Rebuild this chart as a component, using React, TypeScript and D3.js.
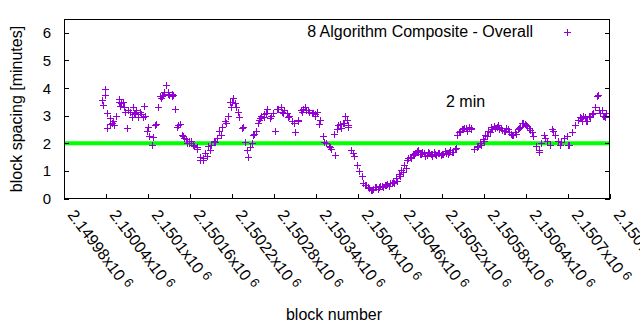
import React from "react";
import * as d3 from "d3";

// ---- data ----
const firstBlock = 2150034;
const blockStep = 4;
const spacingMinutes = [
  3.55, 3.95, 3.1, 2.7, 2.8, 3.0, 3.6, 3.45, 3.3, 2.55,
  3.15, 3.3, 3.1, 2.95, 3.05, 3.35, 2.45, 2.25, 1.95, 2.65,
  3.3, 3.65, 3.75, 4.1, 3.75, 3.8, 3.25, 2.6, 2.7, 2.25,
  2.15, 2.0, 2.1, 1.9, 1.8, 1.5, 1.4, 1.65, 1.9, 1.95,
  2.1, 2.2, 2.45, 2.6, 2.8, 3.0, 3.3, 3.65, 3.3, 2.95,
  2.55, 2.05, 1.75, 1.85, 2.3, 2.45, 2.85, 3.0, 3.05, 3.25,
  2.9, 3.1, 2.45, 3.25, 3.3, 3.2, 3.1, 3.0, 2.8, 2.4,
  2.85, 3.2, 3.25, 3.2, 3.15, 3.1, 3.05, 3.15, 2.85, 2.25,
  2.0, 1.9, 1.8, 2.35, 2.5, 2.7, 2.75, 3.0, 2.6, 1.75,
  1.55, 1.2, 1.0, 0.8, 0.5, 0.4, 0.32, 0.36, 0.4, 0.42,
  0.45, 0.5, 0.52, 0.55, 0.6, 0.75, 0.9, 1.05, 1.2, 1.4,
  1.52, 1.6, 1.65, 1.7, 1.62, 1.66, 1.58, 1.65, 1.62, 1.6,
  1.64, 1.58, 1.62, 1.65, 1.68, 1.7, 1.78, 2.3, 2.45, 2.5,
  2.55, 2.6, 2.5, 1.8, 1.85, 2.0, 2.15, 2.3, 2.45, 2.6,
  2.62, 2.6, 2.52, 2.48, 2.45, 2.5, 2.35, 2.3, 2.35, 2.55,
  2.72, 2.7, 2.62, 2.48, 2.25, 1.9, 1.75, 2.0, 2.3, 2.1,
  1.95, 2.45, 2.3, 2.1, 2.05, 2.2, 2.25, 1.95, 2.4, 2.65,
  2.85, 2.9, 3.0, 2.8, 3.0, 3.05, 3.3, 3.7, 3.1, 3.0,
  3.1,
];
const extraBlocks = [
  2150035, 2150039, 2150042, 2150046, 2150058, 2150067, 2150077, 2150083,
  2150093, 2150107, 2150117, 2150123, 2150129, 2150134, 2150143, 2150148,
  2150158, 2150170, 2150174, 2150179, 2150217, 2150224, 2150243, 2150257,
  2150265, 2150293, 2150315, 2150324, 2150339, 2150367, 2150372, 2150386,
  2150393, 2150407, 2150472, 2150486, 2150505, 2150546, 2150562, 2150572,
  2150596, 2150612, 2150631, 2150636, 2150658, 2150667, 2150677, 2150689,
  2150700, 2150717, 2150727, 2150739, 2150743, 2150748, 2150753,
  2150048, 2150052, 2150060, 2150064, 2150072, 2150080, 2150088, 2150096,
  2150100, 2150112, 2150120, 2150128, 2150136, 2150152, 2150156, 2150164,
  2150184, 2150188, 2150196, 2150204, 2150212, 2150220, 2150228, 2150236,
  2150248, 2150252, 2150260, 2150268, 2150276, 2150284, 2150292, 2150300,
  2150308, 2150320, 2150328, 2150336, 2150344, 2150352, 2150360, 2150376,
  2150380, 2150384,
  2150412, 2150416, 2150420, 2150424, 2150428, 2150432, 2150436, 2150440,
  2150444, 2150448, 2150452, 2150456, 2150460, 2150464, 2150468, 2150476,
  2150480, 2150484, 2150488, 2150492, 2150496, 2150500, 2150504, 2150508,
  2150512, 2150516, 2150520, 2150524, 2150528, 2150532, 2150536, 2150540,
  2150544, 2150548, 2150552, 2150556,
  2150576, 2150580, 2150584, 2150588, 2150592, 2150600, 2150604, 2150608,
  2150616, 2150620, 2150624, 2150628, 2150640, 2150644, 2150648,
  2150720, 2150724, 2150732, 2150736, 2150744, 2150752,
];
const extraMinutes = [
  3.4, 3.76, 2.55, 2.9, 3.5, 3.15, 2.95, 3.2,
  2.95, 2.24, 3.7, 3.85, 3.8, 3.7, 2.67, 2.3,
  2.08, 1.85, 1.4, 1.45, 3.5, 3.45, 1.51, 2.75,
  2.95, 3.1, 2.8, 3.3, 3.0, 1.57, 2.65, 2.65,
  1.64, 0.55, 1.45, 1.75, 1.55, 2.4, 2.55, 1.9,
  2.55, 2.55, 2.6, 2.75, 1.69, 2.2, 2.5, 1.95,
  1.94, 2.95, 2.79, 3.33, 3.75, 3.2, 2.95,
  2.75, 2.65, 3.35, 3.5, 3.2, 3.05, 3.15, 3.0,
  2.6, 2.7, 3.7, 3.85, 3.75, 2.2, 2.0, 1.95,
  1.55, 1.75, 2.05, 2.3, 2.75, 3.5, 3.15, 2.6,
  2.0, 2.35, 2.9, 3.1, 3.0, 3.25, 3.15, 2.95,
  2.75, 3.15, 3.2, 3.1, 2.7, 2.05, 1.85, 2.55,
  2.75, 2.85,
  0.48, 0.38, 0.3, 0.4, 0.36, 0.45, 0.42, 0.5,
  0.47, 0.55, 0.56, 0.65, 0.8, 0.95, 1.1, 1.48,
  1.58, 1.72, 1.6, 1.68, 1.55, 1.7, 1.6, 1.67,
  1.57, 1.66, 1.62, 1.72, 1.6, 1.74, 1.7, 1.82,
  2.4, 2.5, 2.55, 2.45,
  1.95, 2.1, 2.25, 2.4, 2.5, 2.65, 2.55, 2.45,
  2.4, 2.3, 2.4, 2.5, 2.65, 2.55, 2.4,
  2.8, 2.95, 2.95, 3.1, 3.2, 3.0,
];
const xTicks = [
  2149980, 2150040, 2150100, 2150160, 2150220, 2150280, 2150340,
  2150400, 2150460, 2150520, 2150580, 2150640, 2150700, 2150760,
];
const yTicks = [0, 1, 2, 3, 4, 5, 6];
const targetMinutes = 2;
const seriesTitle = "8 Algorithm Composite - Overall";
const targetLabel = "2 min";
const xTitle = "block number";
const yTitle = "block spacing [minutes]";

const FONT = "'Liberation Sans', Arial, sans-serif";
const PURPLE = "#9400d3";

export default function App() {
  const W = 640;
  const H = 330;
  const L = 64, R = 609.5, T = 19, B = 198.5;
  const x = d3.scaleLinear().domain([2149980, 2150760]).range([64, 610]);
  const y = d3.scaleLinear().domain([0, 6.5]).range([B, T]);

  const pts: [number, number][] = [];
  spacingMinutes.forEach((v, i) => pts.push([firstBlock + i * blockStep, v]));
  extraBlocks.forEach((b, i) => pts.push([b, extraMinutes[i]]));

  const plus = (cx: number, cy: number) => {
    const px = Math.round(cx) + 0.5;
    const py = Math.round(cy) + 0.5;
    return `M${px - 3.5},${py}h7M${px},${py - 3.5}v7`;
  };
  const pointsPath = pts.map(([b, v]) => plus(x(b), y(v))).join("");

  const fmt = (v: number) => String(+(v / 1e6).toFixed(5));

  return (
    <svg
      width={W}
      height={H}
      style={{ position: "absolute", left: 0, top: 0, background: "#fff" }}
      fontFamily={FONT}
    >
      <rect x={0} y={0} width={W} height={H} fill="#fff" />
      {/* target line */}
      <line
        x1={L}
        x2={R}
        y1={y(targetMinutes)}
        y2={y(targetMinutes)}
        stroke="#00ff00"
        strokeWidth={4}
      />
      {/* points */}
      <path d={pointsPath} stroke={PURPLE} strokeWidth={1} fill="none" shapeRendering="crispEdges" />

      {/* frame */}
      <rect x={L} y={T} width={R - L} height={B - T} fill="none" stroke="#000" strokeWidth={1} shapeRendering="crispEdges" />
      {/* y ticks */}
      {yTicks.map((t) => (
        <g key={"y" + t}>
          <line x1={L} x2={L + 5} y1={Math.round(y(t)) + 0.5} y2={Math.round(y(t)) + 0.5} stroke="#000" shapeRendering="crispEdges" />
          <line x1={R - 5} x2={R} y1={Math.round(y(t)) + 0.5} y2={Math.round(y(t)) + 0.5} stroke="#000" shapeRendering="crispEdges" />
          <text x={51} y={y(t) + 5.5} fontSize={15} textAnchor="end" fill="#000">
            {t}
          </text>
        </g>
      ))}
      {/* x ticks */}
      {xTicks.map((t) => (
        <g key={"x" + t}>
          <line x1={Math.round(x(t)) + 0.5} x2={Math.round(x(t)) + 0.5} y1={B} y2={B - 5} stroke="#000" shapeRendering="crispEdges" />
          <text
            transform={`translate(${x(t) + 3},${215}) rotate(53)`}
            fontSize={16}
            fill="#000"
          >
            {fmt(t) + "x10"}
            <tspan dx={4} dy={-4} fontSize={13}>6</tspan>
          </text>
        </g>
      ))}
      {/* axis titles */}
      <text x={334} y={320} fontSize={16} textAnchor="middle" fill="#000">
        {xTitle}
      </text>
      <text transform={`translate(22,109) rotate(-90)`} fontSize={16} textAnchor="middle" fill="#000">
        {yTitle}
      </text>
      {/* legend */}
      <text x={533} y={37} fontSize={16} textAnchor="end" fill="#000">
        {seriesTitle}
      </text>
      <path d={plus(567, 32)} stroke={PURPLE} strokeWidth={1} fill="none" shapeRendering="crispEdges" />
      {/* label */}
      <text x={446} y={107} fontSize={16} fill="#000">
        {targetLabel}
      </text>
    </svg>
  );
}
